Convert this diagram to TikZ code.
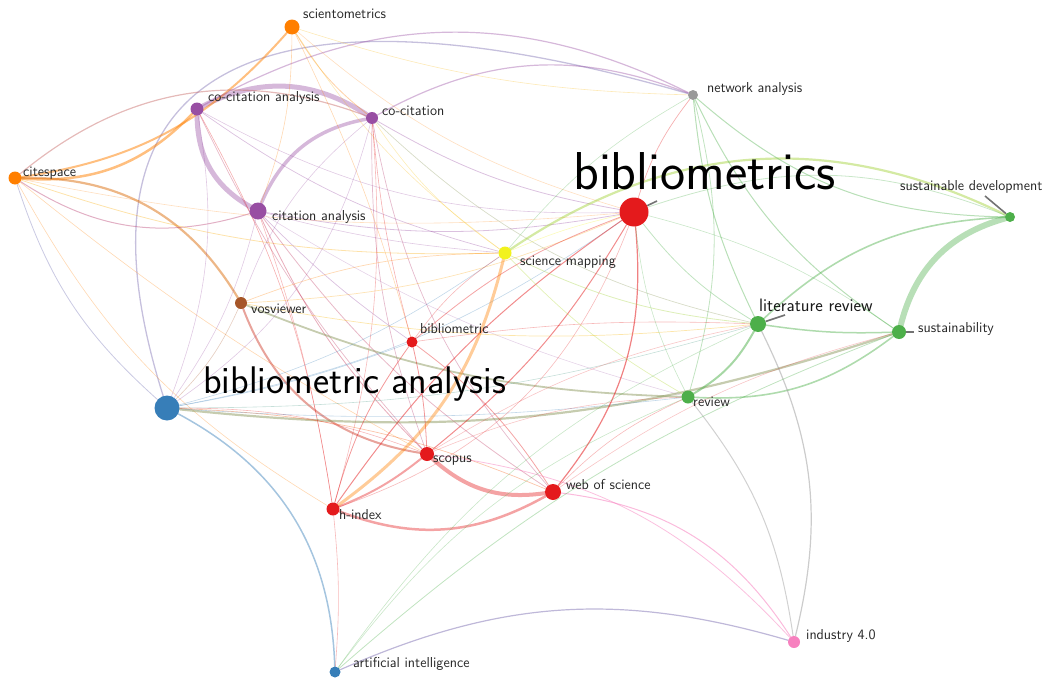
\documentclass[tikz,border=0pt]{standalone}
\usetikzlibrary{positioning}
\definecolor{vred}{HTML}{E41A1C}
\definecolor{vblue}{HTML}{377EB8}
\definecolor{vgreen}{HTML}{4DAF4A}
\definecolor{vpurple}{HTML}{984EA3}
\definecolor{vorange}{HTML}{FF7F00}
\definecolor{vyellow}{HTML}{F2F21E}
\definecolor{vbrown}{HTML}{A65628}
\definecolor{vpink}{HTML}{F781BF}
\definecolor{vgrey}{HTML}{999999}
\definecolor{volive}{HTML}{8E9A60}
\tikzstyle{kw} = [circle, inner sep=0pt, draw=none]
\tikzstyle{lab} = [anchor=base west, inner sep=0pt, text=black!85, font=\sffamily\fontsize{14.4}{14.4}\selectfont]
\tikzstyle{midlab} = [lab, text=black!90, font=\sffamily\fontsize{18}{18}\selectfont]
\tikzstyle{biglab} = [lab, text=black, font=\sffamily\fontsize{38.5}{38.5}\selectfont]
\tikzstyle{link} = [line cap=round]
\tikzstyle{leader} = [draw=black!55, line width=1.6pt]
\pgfdeclarelayer{edges}
\pgfsetlayers{edges,main}

\begin{document}
\begin{tikzpicture}[x=1pt,y=-1pt]
\useasboundingbox (0,0) rectangle (1055,680);

% keywords
\node[kw, fill=vorange, minimum size=15pt] (scientom) at (292,27) {};
\node[kw, fill=vpurple, minimum size=13pt] (cocitan) at (197,109) {};
\node[kw, fill=vpurple, minimum size=12pt] (cocit) at (372,118) {};
\node[kw, fill=vorange, minimum size=13pt] (citesp) at (15,178) {};
\node[kw, fill=vpurple, minimum size=17pt] (citan) at (258,211) {};
\node[kw, fill=vred, minimum size=29pt] (biblios) at (634,212) {};
\node[kw, fill=vgrey, minimum size=10pt] (netan) at (693,95) {};
\node[kw, fill=vgreen, minimum size=10pt] (susdev) at (1010,217) {};
\node[kw, fill=vyellow, minimum size=13pt] (scimap) at (505,253) {};
\node[kw, fill=vbrown, minimum size=12pt] (vosv) at (241,303) {};
\node[kw, fill=vgreen, minimum size=16pt] (litrev) at (758,324) {};
\node[kw, fill=vgreen, minimum size=14pt] (sust) at (899,332) {};
\node[kw, fill=vred, minimum size=11pt] (biblic) at (412,342) {};
\node[kw, fill=vblue, minimum size=25pt] (bibanal) at (167,408) {};
\node[kw, fill=vgreen, minimum size=13pt] (review) at (688,397) {};
\node[kw, fill=vred, minimum size=14pt] (scopus) at (427,454) {};
\node[kw, fill=vred, minimum size=16pt] (wos) at (553,492) {};
\node[kw, fill=vred, minimum size=13pt] (hindex) at (333,509) {};
\node[kw, fill=vpink, minimum size=12pt] (industry) at (794,642) {};
\node[kw, fill=vblue, minimum size=11pt] (artint) at (335,672) {};

% labels
\node[lab] (scientom-l) at (303,18) {scientometrics};
\node[lab] (cocitan-l) at (208,101) {co-citation analysis};
\node[lab] (cocit-l) at (382,115) {co-citation};
\node[lab] (citesp-l) at (23,176) {citespace};
\node[lab] (citan-l) at (272,220) {citation analysis};
\node[biglab, font=\sffamily\fontsize{53.3}{53.3}\selectfont] (biblios-l) at (573,189) {bibliometrics};
\node[lab] (netan-l) at (707,92) {network analysis};
\node[lab] (susdev-l) at (900,190) {sustainable development};
\node[lab] (scimap-l) at (520,265) {science mapping};
\node[lab] (vosv-l) at (251,313) {vosviewer};
\node[midlab] (litrev-l) at (759,311) {literature review};
\node[lab] (sust-l) at (918,332) {sustainability};
\node[lab] (biblic-l) at (420,333) {bibliometric};
\node[biglab] (bibanal-l) at (203,393) {bibliometric analysis};
\node[lab] (review-l) at (693,406) {review};
\node[lab] (scopus-l) at (433,462) {scopus};
\node[lab] (wos-l) at (566,489) {web of science};
\node[lab] (hindex-l) at (339,519) {h-index};
\node[lab] (industry-l) at (806,639) {industry 4.0};
\node[lab] (artint-l) at (353,667) {artificial intelligence};

% links
\begin{pgfonlayer}{edges}
\draw[link, draw=vpurple!60!vblue, line width=1.3pt, draw opacity=0.4]
  (bibanal) .. controls +(-120,-380) and +(-380,-110) .. (netan);
\foreach \a/\b/\c/\w/\o/\bd in {
  cocitan/cocit/vpurple/5/0.4/30, cocitan/citan/vpurple/5/0.4/-30,
  citan/cocit/vpurple/3.5/0.4/28,
  citesp/cocitan/vorange/2.5/0.5/-25, citesp/scientom/vorange/2/0.5/-20,
  citesp/vosv/vorange!60!vbrown/2.2/0.5/30, citesp/cocit/vbrown!60!vpink/1.2/0.45/30,
  citesp/citan/vpurple!60!vred/1/0.4/-25, citesp/bibanal/vpurple!50!vblue/0.8/0.35/-15,
  citesp/scimap/vorange!60!vyellow/0.8/0.35/-10, citesp/hindex/vorange/0.6/0.3/-15,
  citesp/scopus/vorange/0.6/0.3/-5, citesp/biblios/vorange/0.6/0.25/-8,
  scientom/cocit/vorange/0.8/0.35/-10, scientom/citan/vorange/0.6/0.3/10,
  scientom/scimap/vorange!50!vyellow/0.6/0.3/-10, scientom/biblios/vorange/0.6/0.25/-12,
  scientom/netan/vorange!50!vyellow/0.6/0.3/-8, scientom/biblic/vorange/0.6/0.3/5,
  cocitan/netan/vpurple/1.2/0.4/28, cocit/netan/vpurple/1.2/0.4/25,
  cocitan/scimap/vpurple/0.7/0.35/-10, cocitan/scopus/vpurple!50!vred/0.7/0.35/-8,
  cocitan/hindex/vred/0.6/0.35/10, cocitan/biblios/vpurple/0.6/0.3/-15,
  cocitan/bibanal/vpurple/0.6/0.3/15, cocit/biblios/vpurple/0.8/0.35/-10,
  cocit/scopus/vpurple!60!vred/0.7/0.35/-10, cocit/wos/vpurple!60!vred/0.7/0.35/-15,
  cocit/litrev/volive/0.7/0.35/-15, cocit/bibanal/vpurple/0.6/0.3/20,
  cocit/vosv/vpurple/0.6/0.3/-15, cocit/hindex/vred/0.6/0.3/10,
  citan/scopus/vred!60!vpurple/0.8/0.4/-10, citan/wos/vpurple!50!vred/0.8/0.35/-10,
  citan/biblios/vpurple/0.8/0.35/-10, citan/biblic/vpurple/0.7/0.35/-5,
  citan/bibanal/vpurple/0.6/0.3/10, citan/review/vpurple/0.6/0.25/-8,
  citan/hindex/vred/0.6/0.3/5, citan/scimap/vpurple/0.6/0.3/-5,
  vosv/scopus/vred!60!vbrown/2/0.45/-30, vosv/review/volive/1.8/0.5/-10,
  vosv/litrev/vorange!50!vyellow/0.7/0.35/-8, vosv/scimap/vorange/0.7/0.3/10,
  vosv/biblios/vorange!70!vyellow/0.7/0.3/-10, vosv/bibanal/vbrown/0.6/0.3/10,
  bibanal/artint/vblue/1.5/0.45/30, bibanal/sust/volive/2.2/0.5/-12,
  bibanal/scimap/vblue/0.6/0.3/-10, bibanal/biblios/vblue/0.6/0.3/-12,
  bibanal/litrev/vblue!50!vgreen/0.6/0.3/-8, bibanal/wos/vorange!60!vred/0.7/0.35/10,
  bibanal/scopus/vred/0.6/0.3/10, bibanal/review/vblue/0.6/0.3/-5,
  bibanal/biblic/vblue/0.6/0.3/-5,
  scopus/wos/vred/4/0.4/-25, hindex/wos/vred/2.5/0.4/-25, hindex/scopus/vred/2/0.4/-8,
  biblios/wos/vred/1.2/0.55/22, biblios/scopus/vred/1/0.5/10,
  biblios/hindex/vred/1/0.5/-10, biblios/biblic/vred/0.8/0.4/-10,
  biblic/scopus/vred/0.8/0.45/5, biblic/hindex/vred/0.8/0.45/-10,
  biblic/wos/vred/0.8/0.4/10, biblic/cocit/vred/0.6/0.35/5, biblic/litrev/vred/0.6/0.3/5,
  biblic/scimap/vred/0.6/0.3/10,
  wos/industry/vpink/1/0.55/25, scopus/industry/vpink/0.8/0.5/20,
  hindex/artint/vred/0.6/0.3/5, hindex/biblios/vred/0.6/0.3/-25,
  scimap/hindex/vorange/3/0.4/20, scimap/susdev/vyellow!50!vgreen/2.2/0.45/30,
  scimap/litrev/vyellow!50!vgreen/0.8/0.35/-10, scimap/review/vyellow!60!vgreen/0.7/0.35/-8,
  scimap/biblios/vyellow/0.6/0.3/5, scimap/cocit/vyellow!60!vorange/0.6/0.3/10,
  susdev/sust/vgreen/6/0.4/-30, litrev/susdev/vgreen/1.6/0.45/20,
  review/sust/vgreen/1.6/0.45/-20, litrev/review/vgreen/2/0.5/15,
  litrev/sust/vgreen/1.5/0.45/-5, netan/litrev/vgreen/1/0.4/-10,
  netan/sust/vgreen/1/0.4/-15, netan/review/vgreen/0.8/0.35/15,
  netan/susdev/vgreen/1/0.4/-20, netan/biblios/vred/0.7/0.35/-10,
  netan/scimap/vgreen/0.6/0.3/-10, biblios/susdev/vgreen/0.8/0.3/20,
  biblios/litrev/vgreen/0.8/0.35/-10, biblios/review/vgreen/0.6/0.3/-10,
  biblios/sust/vgreen/0.6/0.3/10,
  litrev/industry/vgrey/1.2/0.5/20, review/industry/vgrey/1/0.45/15,
  sust/artint/vgreen/0.8/0.35/-10, litrev/artint/vgreen/0.6/0.3/-15,
  review/artint/vgreen/0.6/0.3/-15, artint/industry/vpurple!60!vblue/1.2/0.45/20,
  wos/review/vred/0.6/0.3/10, scopus/review/vred/0.6/0.25/10,
  scopus/litrev/vred/0.6/0.25/10, wos/sust/vred/0.6/0.25/10}
  \draw[link, draw=\c, line width=\w pt, draw opacity=\o] (\a) to[bend left=\bd] (\b);
\end{pgfonlayer}

% leader lines
\coordinate (biblios-t) at (657,201);
\coordinate (susdev-t) at (985,196);
\coordinate (litrev-t) at (785,315);
\coordinate (sust-t) at (914,332);
\draw[leader] (biblios) -- (biblios-t);
\draw[leader] (susdev-t) -- (susdev);
\draw[leader] (litrev) -- (litrev-t);
\draw[leader] (sust) -- (sust-t);

\end{tikzpicture}
\end{document}
